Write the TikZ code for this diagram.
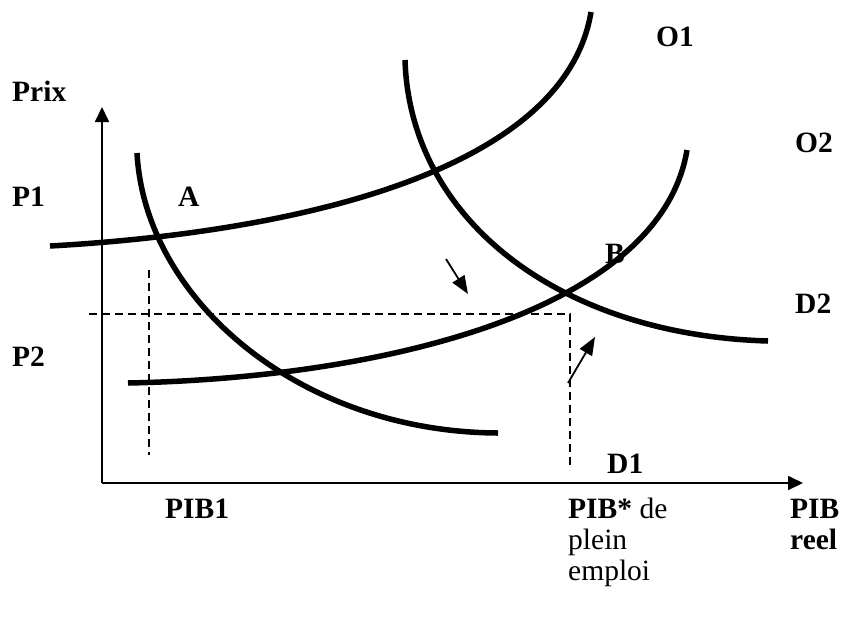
\documentclass[tikz,border=0pt]{standalone}
\usepackage{fontspec}
\setmainfont{Liberation Serif}
\usetikzlibrary{arrows.meta}
\tikzset{
  curve/.style={line width=5.5pt, line cap=butt},
  axis/.style={line width=1.8pt, -{Triangle[length=15pt,width=14pt]}},
  guide/.style={line width=1.5pt, dash pattern=on 8pt off 5pt},
  shiftarrow/.style={line width=1.8pt, -{Triangle[length=18pt,width=14pt]}},
  lbl/.style={anchor=base west, inner sep=0pt, font=\fontsize{29.5}{33}\selectfont\bfseries},
  lblr/.style={anchor=base west, inner sep=0pt, font=\fontsize{29.5}{33}\selectfont}
}
\begin{document}
\begin{tikzpicture}[x=1pt,y=-1pt]
\useasboundingbox (0,0) rectangle (846,641);
% axes
\coordinate (origin) at (102,483);
\coordinate (ytip) at (102,107);
\coordinate (xtip) at (803,483);
\draw[axis] (origin) -- (ytip);
\draw[axis] (origin) -- (xtip);
% guides
\coordinate (h1) at (89,314);
\coordinate (h2) at (570,314);
\coordinate (v1) at (570,470);
\coordinate (v2a) at (149,270);
\coordinate (v2b) at (149,455);
\draw[guide] (h1) -- (h2) -- (v1);
\draw[guide] (v2a) -- (v2b);
% supply curves
\coordinate (o1s) at (50,246);
\coordinate (o1e) at (591,12);
\draw[curve] (o1s) .. controls (300,232) and (565,170) .. (o1e);
\coordinate (o2s) at (128,383);
\coordinate (o2e) at (687,150);
\draw[curve] (o2s) .. controls (380,378) and (660,312) .. (o2e);
% demand curves
\coordinate (d1s) at (137,153);
\coordinate (d1e) at (498,433);
\draw[curve] (d1s) .. controls (145,300) and (300,432) .. (d1e);
\coordinate (d2s) at (405,60);
\coordinate (d2e) at (768,341);
\draw[curve] (d2s) .. controls (410,220) and (560,335) .. (d2e);
% shift arrows
\coordinate (a1s) at (446,259);
\coordinate (a1e) at (468,294);
\coordinate (a2s) at (568,383);
\coordinate (a2e) at (595,337);
\draw[shiftarrow] (a1s) -- (a1e);
\draw[shiftarrow] (a2s) -- (a2e);
% labels
\node[lbl] (prix) at (12,101) {Prix};
\node[lbl] (p1) at (12,206) {P1};
\node[lbl] (a) at (178,206) {A};
\node[lbl] (p2) at (12,366) {P2};
\node[lbl] (b) at (605,263) {B};
\node[lbl] (o1) at (656,46) {O1};
\node[lbl] (o2) at (795,152) {O2};
\node[lbl] (d2) at (795,313) {D2};
\node[lbl] (d1) at (607,473) {D1};
\node[lbl] (pib1) at (165,518) {PIB1};
\node[lblr] (pibs) at (568,518) {\textbf{PIB*} de};
\node[lblr] (plein) at (568,549) {plein};
\node[lblr] (emploi) at (568,580) {emploi};
\node[lbl] (pib) at (790,518) {PIB};
\node[lbl] (reel) at (790,549) {reel};
\end{tikzpicture}
\end{document}
